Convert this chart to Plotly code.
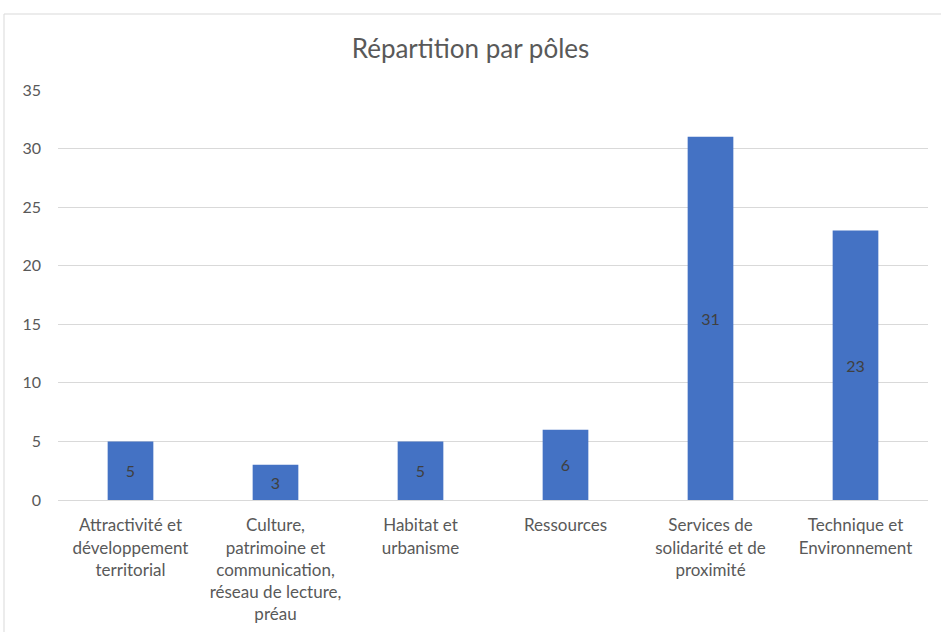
import plotly.graph_objects as go

categories = [
    "Attractivité et<br>développement<br>territorial",
    "Culture,<br>patrimoine et<br>communication,<br>réseau de lecture,<br>préau",
    "Habitat et<br>urbanisme",
    "Ressources",
    "Services de<br>solidarité et de<br>proximité",
    "Technique et<br>Environnement",
]
values = [5, 3, 5, 6, 31, 23]
y_ticks = [0, 5, 10, 15, 20, 25, 30, 35]

W, H = 941, 632
L, R, T, B = 58, 13, 90, 132
pw, ph = W - L - R, H - T - B

FONT = "Lato"

fig = go.Figure()
fig.add_trace(go.Bar(
    x=categories, y=values,
    marker=dict(color="#4472C4", line=dict(width=0)),
    text=[str(v) for v in values],
    textposition="inside", insidetextanchor="middle",
    textfont=dict(family=FONT, size=16, color="#404040"),
    constraintext="none",
    hoverinfo="skip",
))

fig.update_layout(
    width=W, height=H,
    margin=dict(l=L, r=R, t=T, b=B, autoexpand=False),
    paper_bgcolor="white", plot_bgcolor="white",
    bargap=0.685,
    showlegend=False,
    title=dict(text="Répartition par pôles", x=0.5, xanchor="center",
               y=1 - 49 / H, yanchor="middle",
               font=dict(family=FONT, size=26, color="#595959")),
    font=dict(family=FONT, color="#595959"),
    shapes=[dict(type="rect", xref="paper", yref="paper",
                 x0=(4 - L) / pw, x1=(W + 5 - L) / pw,
                 y0=-(H + 10 - (T + ph)) / ph, y1=(T + ph - 14) / ph,
                 line=dict(color="#d9d9d9", width=1), layer="below")],
)
fig.update_xaxes(
    showgrid=False, showline=True, linecolor="#d9d9d9", linewidth=1,
    tickfont=dict(family=FONT, size=17, color="#595959"),
    ticks="", tickangle=0, fixedrange=True, ticklabelstandoff=10,
    automargin=False,
)
fig.update_yaxes(
    range=[0, 35], tickvals=y_ticks, showgrid=True, gridcolor="#d9d9d9",
    gridwidth=1, zeroline=False, showline=False, ticks="",
    tickfont=dict(family=FONT, size=16, color="#595959"),
    ticklabelstandoff=16, fixedrange=True, automargin=False,
)

fig.write_html("out.html",
               config={"displayModeBar": False, "staticPlot": True},
               post_script="document.body.style.margin='0';document.body.style.padding='0';")
